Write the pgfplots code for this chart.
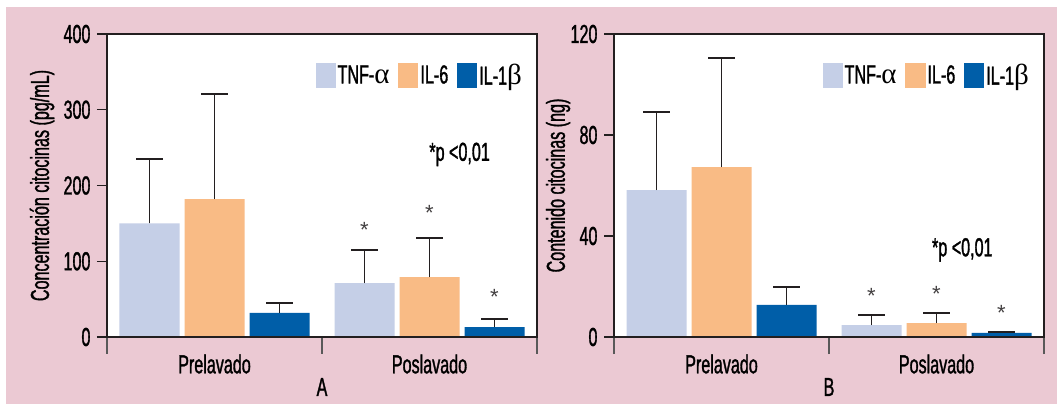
\documentclass[border=0pt]{standalone}
\usepackage{pgfplots}
\pgfplotsset{compat=1.18}
\usepackage{fontspec}
\setmainfont{Liberation Sans}[FakeStretch=0.62, FakeBold=1.2]
\newfontfamily\greek{Liberation Serif}
\newfontfamily\astfont{Liberation Sans}
\definecolor{bgpink}{RGB}{235,201,211}
\definecolor{ctnf}{RGB}{197,207,231}
\definecolor{cil6}{RGB}{249,187,133}
\definecolor{cil1}{RGB}{0,94,168}
\definecolor{axc}{RGB}{35,31,32}
\tikzset{ast/.style={font=\astfont\fontsize{22pt}{24pt}\selectfont, text=axc!85}}
\pgfplotsset{
  panel/.style={
    scale only axis, width=430pt, height=303pt,
    xmin=0, xmax=2, ymin=0,
    axis on top=true,
    axis background/.style={fill=white},
    axis line style={line width=2.6pt, color=axc},
    ybar=5pt, bar width=60pt,
    xtick={0.5,1.5}, xticklabels={Prelavado,Poslavado},
    minor xtick={0,1,2},
    major tick length=10pt, minor tick length=17pt,
    major x tick style={draw=none},
    minor x tick style={line width=1.2pt, color=gray!70!black},
    ytick style={line width=1.2pt, color=axc},
    tick align=outside, xtick pos=bottom, ytick pos=left,
    /pgf/number format/assume math mode=true,
    xticklabel style={anchor=center, yshift=-17pt},
    yticklabel style={xshift=-3pt},
    xlabel style={at={(axis description cs:0.5,0)}, anchor=center, yshift=-50pt},
    legend columns=3,
    legend style={at={(axis description cs:1,1)}, anchor=north east, draw=none, fill=none, inner sep=0pt,
      /tikz/every even column/.append style={column sep=7pt},
      nodes={inner sep=2pt}},
    legend image code/.code={\fill[#1,draw=none] (0pt,-12.5pt) rectangle (20pt,12.5pt);},
    error bars/y dir=plus, error bars/y explicit,
    error bars/error bar style={line width=1.8pt, color=axc},
    error bars/error mark options={mark size=13.5pt, line width=1.8pt, color=axc, rotate=90},
  }
}
\newcommand\ga{{\greek\fontsize{29pt}{30pt}\selectfont α}}
\newcommand\gb{{\greek\fontsize{29pt}{30pt}\selectfont β}}
\begin{document}
\begin{tikzpicture}[font=\fontsize{26pt}{30pt}\selectfont]
\useasboundingbox (0,0) rectangle (1057pt,404pt);
\fill[white] (0,0) rectangle (1057pt,404pt);
\fill[bgpink] (6pt,0) rectangle (1057pt,397pt);
\begin{axis}[panel, at={(107pt,67pt)}, anchor=south west,
  ymax=400, ytick={0,100,200,300,400},
  ylabel={Concentración citocinas (pg/mL)},
  ylabel style={at={(axis description cs:-0.151,0.5)}, anchor=center},
  xlabel={A},
  legend style={xshift=-13pt, yshift=-28pt}]
\addplot[fill=ctnf, draw=none] coordinates {(0.5,150) +- (0,85) (1.5,71) +- (0,44)};
\addplot[fill=cil6, draw=none] coordinates {(0.5,182) +- (0,139) (1.5,79) +- (0,52)};
\addplot[fill=cil1, draw=none] coordinates {(0.5,32) +- (0,13) (1.5,13) +- (0,11)};
\legend{TNF-\ga,IL-6,IL-1\gb}
\node[ast] at (axis cs:1.1977,141) {*};
\node[ast] at (axis cs:1.5,164) {*};
\node[ast] at (axis cs:1.8023,53) {*};
\node at (axis cs:1.64,241) {*p <0,01};
\end{axis}
\begin{axis}[panel, at={(614pt,67pt)}, anchor=south west,
  ymax=120, ytick={0,40,80,120},
  ylabel={Contenido citocinas (ng)},
  ylabel style={at={(axis description cs:-0.13,0.5)}, anchor=center},
  xlabel={B},
  legend style={xshift=-13pt, yshift=-28pt}]
\addplot[fill=ctnf, draw=none] coordinates {(0.5,58.2) +- (0,30.8) (1.5,4.75) +- (0,4.05)};
\addplot[fill=cil6, draw=none] coordinates {(0.5,67.3) +- (0,43.3) (1.5,5.5) +- (0,4.1)};
\addplot[fill=cil1, draw=none] coordinates {(0.5,12.7) +- (0,7.2) (1.5,1.6) +- (0,0.5)};
\legend{TNF-\ga,IL-6,IL-1\gb}
\node[ast] at (axis cs:1.1977,16.4) {*};
\node[ast] at (axis cs:1.5,17.2) {*};
\node[ast] at (axis cs:1.8023,9.6) {*};
\node at (axis cs:1.62,34.5) {*p <0,01};
\end{axis}
\end{tikzpicture}
\end{document}
